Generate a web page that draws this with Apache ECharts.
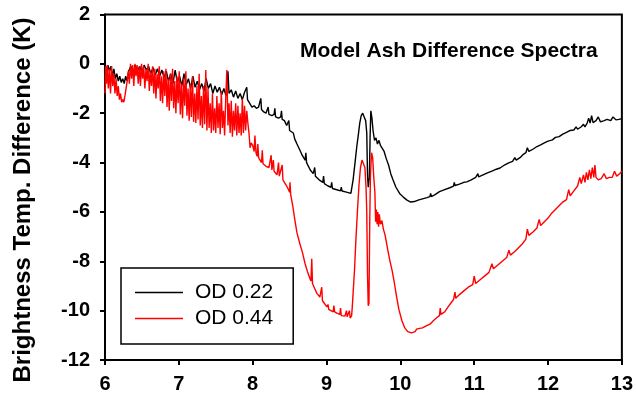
<!DOCTYPE html>
<html>
<head>
<meta charset="utf-8">
<script src="https://cdn.jsdelivr.net/npm/echarts@6/dist/echarts.min.js"></script>
<style>
  html, body { margin: 0; padding: 0; background: #fff; }
  #chart { width: 636px; height: 398px; }
</style>
</head>
<body>
<div id="chart"></div>
<script>
// Axis ranges and tick steps
const xRange = [6, 13];
const xStep = 1;
const yRange = [-12, 2];
const yStep = 2;

const chartTitle = 'Model Ash Difference Spectra';
const yAxisTitle = 'Brightness Temp. Difference (K)';
const seriesNames = ['OD 0.22', 'OD 0.44'];

// Brightness temperature difference (K) vs wavelength (µm), OD 0.22
const od022 = [
  [6.00,-0.1],[6.02,-0.4],[6.04,-0.05],[6.06,-0.3],[6.08,-0.1],[6.10,-0.5],[6.12,-0.2],[6.14,-0.6],
  [6.16,-0.4],[6.18,-0.7],[6.20,-0.5],[6.22,-0.75],[6.24,-0.6],[6.26,-0.8],[6.28,-0.5],[6.30,-0.7],
  [6.32,-0.3],[6.35,-0.1],[6.38,-0.35],[6.41,-0.05],[6.44,-0.3],[6.47,-0.1],[6.50,-0.35],[6.53,-0.05],
  [6.56,-0.25],[6.59,-0.1],[6.62,-0.4],[6.65,-0.15],[6.68,-0.45],[6.71,-0.2],[6.74,-0.5],[6.77,-0.25],
  [6.80,-0.55],[6.83,-0.3],[6.86,-0.7],[6.89,-0.4],[6.92,-0.8],[6.95,-0.25],[6.98,-0.75],[7.01,-0.5],
  [7.04,-0.9],[7.07,-0.4],[7.10,-0.85],[7.13,-0.6],[7.16,-1.0],[7.19,-0.5],[7.22,-0.95],[7.25,-0.7],
  [7.28,-1.05],[7.31,-0.8],[7.34,-1.1],[7.37,-0.6],[7.40,-1.0],[7.43,-0.8],[7.46,-1.2],[7.49,-0.9],
  [7.52,-1.15],[7.55,-0.95],[7.58,-1.25],[7.61,-1.0],[7.64,-1.3],[7.665,-0.3],[7.68,-1.2],[7.71,-1.05],
  [7.74,-1.35],[7.77,-1.1],[7.80,-1.4],[7.83,-1.2],[7.86,-1.45],[7.89,-1.15],[7.92,-0.95],[7.93,-1.45],
  [7.96,-1.6],[7.99,-1.75],[8.02,-1.7],[8.05,-1.8],[8.08,-1.75],[8.11,-1.4],[8.12,-1.85],[8.15,-1.95],
  [8.18,-2.0],[8.21,-1.75],[8.22,-2.05],[8.26,-2.1],[8.29,-2.05],[8.30,-1.8],[8.31,-2.15],[8.35,-2.2],
  [8.38,-2.15],[8.39,-1.9],[8.40,-2.25],[8.43,-2.3],[8.46,-2.5],[8.48,-2.5],[8.49,-2.3],[8.50,-2.7],
  [8.55,-2.8],[8.57,-3.05],[8.60,-3.25],[8.64,-3.5],[8.67,-3.7],[8.71,-3.9],[8.72,-3.6],[8.73,-4.0],
  [8.78,-4.3],[8.82,-4.45],[8.84,-4.2],[8.85,-4.55],[8.90,-4.7],[8.95,-4.8],[8.96,-4.55],[8.97,-4.85],
  [9.02,-4.95],[9.06,-5.0],[9.07,-4.8],[9.08,-5.05],[9.14,-5.1],[9.19,-5.15],[9.20,-5.0],[9.21,-5.15],
  [9.27,-5.2],[9.33,-5.25],[9.34,-5.2],[9.36,-4.7],[9.39,-3.9],[9.41,-3.35],[9.43,-2.9],[9.45,-2.4],
  [9.47,-2.1],[9.49,-2.0],[9.51,-2.15],[9.53,-2.3],[9.545,-2.8],[9.555,-4.5],[9.565,-5.0],[9.58,-4.6],
  [9.59,-3.0],[9.60,-1.9],[9.615,-2.2],[9.63,-2.7],[9.65,-3.1],[9.67,-3.0],[9.69,-3.25],[9.71,-3.1],
  [9.73,-3.3],[9.75,-3.3],[9.78,-3.55],[9.81,-3.85],[9.84,-4.1],[9.87,-4.45],[9.90,-4.7],[9.94,-5.0],
  [9.99,-5.25],[10.04,-5.4],[10.09,-5.52],[10.14,-5.6],[10.19,-5.58],[10.24,-5.52],[10.30,-5.47],[10.36,-5.42],
  [10.40,-5.38],[10.41,-5.25],[10.42,-5.38],[10.47,-5.3],[10.53,-5.18],[10.60,-5.1],[10.67,-5.02],[10.72,-4.95],
  [10.73,-4.8],[10.74,-4.93],[10.80,-4.87],[10.86,-4.8],[10.90,-4.78],[10.96,-4.7],[11.02,-4.6],[11.05,-4.45],
  [11.06,-4.58],[11.12,-4.5],[11.18,-4.42],[11.24,-4.35],[11.30,-4.27],[11.35,-4.22],[11.41,-4.1],[11.46,-4.02],
  [11.52,-3.95],[11.55,-3.8],[11.57,-3.9],[11.62,-3.8],[11.66,-3.68],[11.70,-3.6],[11.72,-3.4],[11.74,-3.55],
  [11.80,-3.45],[11.85,-3.35],[11.90,-3.28],[11.95,-3.2],[12.00,-3.13],[12.06,-3.08],[12.10,-2.98],[12.15,-2.95],
  [12.20,-2.85],[12.25,-2.78],[12.30,-2.7],[12.35,-2.68],[12.38,-2.55],[12.40,-2.65],[12.45,-2.55],[12.48,-2.45],
  [12.50,-2.55],[12.53,-2.4],[12.55,-2.2],[12.57,-2.4],[12.59,-2.1],[12.61,-2.38],[12.65,-2.3],[12.68,-2.15],
  [12.71,-2.35],[12.76,-2.3],[12.80,-2.25],[12.85,-2.3],[12.88,-2.15],[12.92,-2.27],[12.96,-2.25],[13.00,-2.22]
];

// Brightness temperature difference (K) vs wavelength (µm), OD 0.44
const od044 = [
  [6.00,-1.2],[6.01,-0.1],[6.02,-0.8],[6.03,-0.05],[6.045,-1.0],[6.06,-0.2],[6.075,-1.2],[6.09,-0.1],
  [6.105,-0.9],[6.12,-0.4],[6.135,-1.2],[6.15,-0.6],[6.165,-1.3],[6.18,-0.9],[6.195,-1.45],[6.21,-1.2],
  [6.225,-1.55],[6.24,-1.45],[6.255,-1.55],[6.27,-1.3],[6.285,-1.0],[6.30,-0.7],[6.315,-0.3],[6.33,-0.8],
  [6.345,0.0],[6.36,-0.6],[6.375,-0.05],[6.39,-0.9],[6.405,0.0],[6.42,-0.5],[6.435,-0.05],[6.45,-0.8],
  [6.465,-0.1],[6.48,-0.9],[6.495,0.0],[6.51,-0.6],[6.525,-0.1],[6.54,-1.0],[6.555,-0.2],[6.57,-0.7],
  [6.585,0.0],[6.60,-1.1],[6.615,-0.3],[6.63,-0.9],[6.645,-0.1],[6.66,-1.2],[6.675,-0.2],[6.69,-1.4],
  [6.705,-0.4],[6.72,-1.0],[6.735,-0.1],[6.75,-1.5],[6.765,-0.5],[6.78,-1.6],[6.795,-0.3],[6.81,-1.3],
  [6.825,-0.2],[6.84,-1.75],[6.855,-0.6],[6.87,-1.9],[6.885,-0.4],[6.90,-1.5],[6.915,-0.2],[6.93,-1.8],
  [6.945,-0.7],[6.96,-2.0],[6.975,-0.5],[6.99,-1.6],[7.005,-0.3],[7.02,-2.05],[7.035,-0.8],[7.05,-2.2],
  [7.065,-0.6],[7.08,-1.7],[7.095,-0.3],[7.11,-2.1],[7.125,-1.0],[7.14,-2.3],[7.155,-0.8],[7.17,-2.15],
  [7.185,-0.5],[7.20,-2.35],[7.215,-1.2],[7.23,-2.4],[7.245,-0.9],[7.26,-2.25],[7.275,-0.4],[7.29,-2.5],
  [7.305,-1.3],[7.32,-2.6],[7.335,-0.9],[7.35,-2.45],[7.365,-0.25],[7.38,-2.7],[7.395,-1.0],[7.41,-2.6],
  [7.425,-1.6],[7.44,-2.8],[7.455,-1.2],[7.47,-2.7],[7.485,-1.8],[7.50,-2.8],[7.515,-1.3],[7.53,-2.6],
  [7.545,-1.6],[7.56,-2.85],[7.575,-1.1],[7.59,-2.6],[7.605,-1.9],[7.62,-2.9],[7.635,-1.4],[7.65,-0.25],
  [7.665,-2.5],[7.68,-1.6],[7.695,-2.8],[7.71,-1.5],[7.725,-2.95],[7.74,-1.9],[7.755,-2.7],[7.77,-1.6],
  [7.785,-2.9],[7.80,-1.7],[7.815,-2.8],[7.83,-2.0],[7.845,-2.9],[7.86,-1.4],[7.875,-2.8],[7.89,-1.7],
  [7.905,-2.7],[7.92,-1.9],[7.935,-2.4],[7.95,-2.8],[7.965,-3.4],[7.98,-3.2],[8.00,-3.3],[8.02,-3.55],
  [8.03,-2.9],[8.045,-3.6],[8.06,-3.75],[8.07,-3.25],[8.08,-3.8],[8.10,-3.9],[8.12,-4.0],[8.13,-3.5],
  [8.14,-4.05],[8.16,-4.1],[8.18,-4.15],[8.20,-4.1],[8.22,-4.2],[8.235,-4.2],[8.25,-3.7],[8.26,-4.3],
  [8.28,-3.9],[8.29,-4.35],[8.31,-4.4],[8.33,-4.5],[8.35,-4.0],[8.36,-4.55],[8.38,-4.6],[8.40,-4.1],
  [8.41,-4.7],[8.44,-4.85],[8.47,-5.0],[8.50,-5.2],[8.505,-4.8],[8.515,-5.3],[8.545,-5.8],[8.57,-6.3],
  [8.60,-6.85],[8.64,-7.3],[8.67,-7.6],[8.71,-8.1],[8.74,-8.4],[8.775,-8.7],[8.79,-8.8],[8.80,-7.9],
  [8.81,-8.9],[8.84,-9.1],[8.87,-9.3],[8.91,-9.45],[8.93,-9.5],[8.935,-9.05],[8.945,-9.6],[8.97,-9.7],
  [9.005,-9.85],[9.02,-9.75],[9.03,-9.95],[9.06,-10.0],[9.09,-10.05],[9.10,-9.8],[9.11,-10.05],[9.14,-10.1],
  [9.18,-10.15],[9.19,-9.9],[9.20,-10.2],[9.22,-10.15],[9.25,-10.22],[9.27,-10.0],[9.28,-10.25],[9.30,-10.25],
  [9.31,-10.0],[9.32,-10.3],[9.34,-10.2],[9.35,-9.8],[9.36,-9.3],[9.38,-8.3],[9.40,-7.0],[9.42,-5.9],
  [9.44,-4.9],[9.46,-4.2],[9.48,-3.9],[9.50,-3.95],[9.52,-4.2],[9.535,-5.0],[9.545,-6.0],[9.555,-8.5],
  [9.565,-9.8],[9.575,-9.7],[9.585,-6.5],[9.595,-4.5],[9.61,-3.6],[9.625,-3.8],[9.64,-4.6],[9.655,-5.2],
  [9.665,-6.4],[9.675,-5.9],[9.685,-6.5],[9.695,-6.0],[9.705,-6.6],[9.715,-6.1],[9.73,-6.5],[9.75,-6.35],
  [9.77,-6.7],[9.79,-6.9],[9.81,-7.2],[9.83,-7.55],[9.86,-8.0],[9.89,-8.4],[9.92,-8.9],[9.95,-9.45],
  [9.98,-9.95],[10.02,-10.4],[10.06,-10.7],[10.10,-10.85],[10.15,-10.9],[10.20,-10.85],[10.22,-10.75],[10.26,-10.72],
  [10.30,-10.7],[10.35,-10.62],[10.40,-10.55],[10.45,-10.4],[10.50,-10.27],[10.53,-10.2],[10.54,-9.9],[10.55,-10.15],
  [10.60,-10.05],[10.67,-9.75],[10.72,-9.55],[10.74,-9.25],[10.75,-9.5],[10.80,-9.35],[10.86,-9.2],[10.92,-9.05],
  [10.98,-8.95],[11.00,-8.6],[11.02,-8.9],[11.08,-8.75],[11.14,-8.6],[11.20,-8.45],[11.24,-8.1],[11.26,-8.3],
  [11.32,-8.15],[11.38,-8.0],[11.44,-7.85],[11.47,-7.55],[11.49,-7.75],[11.55,-7.6],[11.60,-7.45],[11.65,-7.3],
  [11.70,-7.1],[11.72,-6.7],[11.74,-6.95],[11.80,-6.8],[11.85,-6.65],[11.88,-6.3],[11.90,-6.55],[11.95,-6.4],
  [12.00,-6.25],[12.05,-6.05],[12.10,-5.9],[12.15,-5.75],[12.20,-5.6],[12.25,-5.5],[12.28,-5.1],[12.30,-5.35],
  [12.35,-5.15],[12.40,-4.95],[12.43,-4.6],[12.45,-4.85],[12.48,-4.5],[12.50,-4.8],[12.52,-4.4],[12.54,-4.7],
  [12.56,-4.3],[12.58,-4.65],[12.60,-4.2],[12.62,-4.6],[12.635,-4.1],[12.65,-4.6],[12.68,-4.7],[12.72,-4.65],
  [12.76,-4.45],[12.79,-4.65],[12.83,-4.6],[12.87,-4.6],[12.90,-4.35],[12.93,-4.55],[12.97,-4.45],[13.00,-4.35]
];

const FONT = 'Liberation Sans, Arial, Helvetica, sans-serif';

const chart = echarts.init(document.getElementById('chart'), null, { renderer: 'canvas' });

chart.setOption({
  animation: false,
  backgroundColor: '#ffffff',
  title: {
    text: chartTitle,
    left: 300,
    top: 41,
    padding: 0,
    textStyle: { fontFamily: FONT, fontSize: 21, fontWeight: 'bold', color: '#000' }
  },
  legend: {
    orient: 'vertical',
    left: 121,
    top: 268,
    padding: [14, 20, 15, 14],
    icon: 'rect',
    itemWidth: 48,
    itemHeight: 1.5,
    itemGap: 5,
    borderColor: '#000',
    borderWidth: 1.5,
    borderRadius: 0,
    backgroundColor: '#fff',
    data: seriesNames,
    textStyle: { fontFamily: FONT, fontSize: 21, color: '#000', padding: [0, 0, 0, 7] }
  },
  grid: {
    left: 105,
    right: 14,
    top: 14.5,
    bottom: 38,
    show: true,
    borderColor: '#000',
    borderWidth: 2,
    backgroundColor: 'transparent'
  },
  xAxis: {
    type: 'value',
    min: xRange[0],
    max: xRange[1],
    interval: xStep,
    axisLine: { onZero: false, lineStyle: { color: '#000', width: 2 } },
    axisTick: { show: true, inside: false, length: 5, lineStyle: { color: '#000', width: 2 } },
    splitLine: { show: false },
    axisLabel: { margin: 14, fontFamily: FONT, fontSize: 20, fontWeight: 'bold', color: '#000' }
  },
  yAxis: {
    type: 'value',
    min: yRange[0],
    max: yRange[1],
    interval: yStep,
    axisLine: { onZero: false, lineStyle: { color: '#000', width: 2 } },
    axisTick: { show: true, inside: false, length: 5, lineStyle: { color: '#000', width: 2 } },
    splitLine: { show: false },
    axisLabel: { margin: 15, fontFamily: FONT, fontSize: 20, fontWeight: 'bold', color: '#000' }
  },
  graphic: [{
    type: 'text',
    x: 23,
    y: 200,
    rotation: Math.PI / 2,
    style: {
      text: yAxisTitle,
      fontFamily: FONT,
      fontSize: 24,
      fontWeight: 'bold',
      fill: '#000',
      textAlign: 'center',
      textVerticalAlign: 'middle'
    }
  }],
  series: [
    {
      name: seriesNames[0],
      type: 'line',
      data: od022,
      showSymbol: false,
      symbol: 'none',
      lineStyle: { color: '#000000', width: 1.4 },
      itemStyle: { color: '#000000' },
      z: 2
    },
    {
      name: seriesNames[1],
      type: 'line',
      data: od044,
      showSymbol: false,
      symbol: 'none',
      lineStyle: { color: '#ff0000', width: 1.4 },
      itemStyle: { color: '#ff0000' },
      z: 3
    }
  ]
});
</script>
</body>
</html>
